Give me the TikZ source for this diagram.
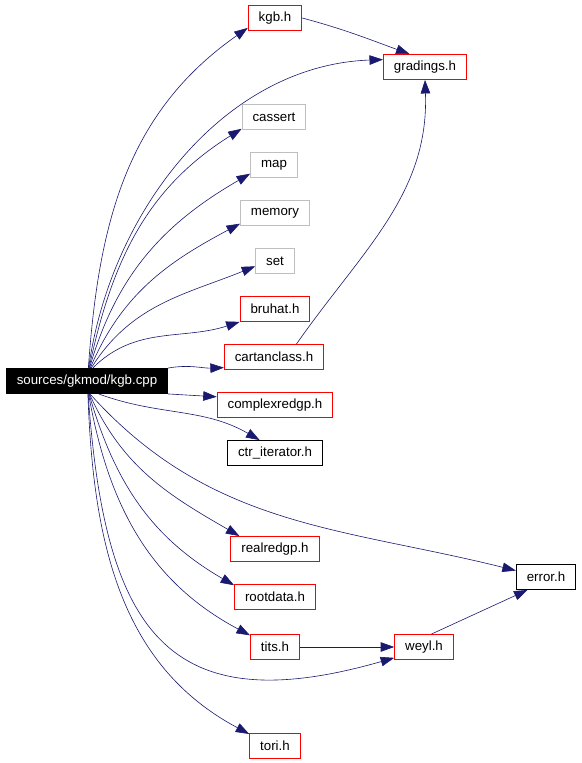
\documentclass[tikz,border=0pt]{standalone}
\usepackage{fontspec}
\setmainfont{Liberation Sans}
\usepackage{tikz}
\usetikzlibrary{arrows.meta}
\definecolor{cEdge}{HTML}{191970}
\definecolor{cRed}{HTML}{FF0000}
\definecolor{cGrey}{HTML}{BFBFBF}

\begin{document}
\begin{tikzpicture}[
  x=1pt, y=1pt,
  font=\fontsize{13.3}{15}\selectfont,
  hdr/.style   = {draw=cRed, fill=white, line width=0.9pt, inner xsep=10.5pt,
                  minimum height=25pt, inner ysep=0pt},
  sys/.style   = {hdr, draw=cGrey},
  plain/.style = {hdr, draw=black},
  root/.style  = {hdr, draw=black, fill=black, text=white},
  ar/.style    = {-{Triangle[length=13.5pt,width=9.5pt]}, draw=cEdge,
                  line width=0.6pt},
]
\useasboundingbox (0,0) rectangle (581,763);
% files
\node[root]  (cpp)     at (87,382)  {sources/gkmod/kgb.cpp};
\node[hdr]   (kgbh)    at (275,745) {kgb.h};
\node[hdr]   (grad)    at (425,696) {gradings.h};
\node[sys]   (cassert) at (274,646) {cassert};
\node[sys]   (map)     at (274,598) {map};
\node[sys]   (memory)  at (275,550) {memory};
\node[sys]   (set)     at (275,502) {set};
\node[hdr]   (bruhat)  at (275,454) {bruhat.h};
\node[hdr]   (cartan)  at (274,406) {cartanclass.h};
\node[hdr]   (complex) at (275,358) {complexredgp.h};
\node[plain] (ctr)     at (275,310) {ctr\_iterator.h};
\node[plain] (error)   at (546,186) {error.h};
\node[hdr]   (realred) at (275,214) {realredgp.h};
\node[hdr]   (rootd)   at (275,166) {rootdata.h};
\node[hdr]   (tits)    at (275,116) {tits.h};
\node[hdr]   (weyl)    at (424,116) {weyl.h};
\node[hdr]   (tori)    at (275,17)  {tori.h};
% includes of kgb.cpp
\draw[ar] (cpp.84) to[out=86,in=215] (kgbh.200);
\draw[ar] (cpp.83) to[out=82,in=182,looseness=0.95] (grad.170);
\draw[ar] (cpp.81) to[out=78,in=212] (cassert.200);
\draw[ar] (cpp.79) to[out=74,in=210] (map.200);
\draw[ar] (cpp.76) to[out=67,in=208] (memory.197);
\draw[ar] (cpp.72) to[out=58,in=202] (set.195);
\draw[ar] (cpp.66) to[out=45,in=198] (bruhat.200);
\draw[ar] (cpp.north east) to[out=10,in=182] (cartan.192);
\draw[ar] (cpp.south east) -- (complex.172);
\draw[ar] (cpp.-48) to[out=-20,in=150] (ctr.140);
\draw[ar] (cpp.-77) to[out=-48,in=166] (error.168);
\draw[ar] (cpp.-79) to[out=-66,in=150] (realred.160);
\draw[ar] (cpp.-81) to[out=-74,in=150] (rootd.164);
\draw[ar] (cpp.-83) to[out=-80,in=152] (tits.155);
\draw[ar] (cpp.-85) to[out=-86,in=196,looseness=1.5] (weyl.200);
\draw[ar] (cpp.-86) to[out=-88,in=152] (tori.155);
% other includes
\draw[ar] (kgbh.east) to[out=-15,in=160] (grad.140);
\draw[ar] (cartan.30) to[out=55,in=-88] (grad.south);
\draw[ar] (tits.east) -- (weyl.west);
\draw[ar] (weyl.60) -- (error.215);
\end{tikzpicture}
\end{document}
